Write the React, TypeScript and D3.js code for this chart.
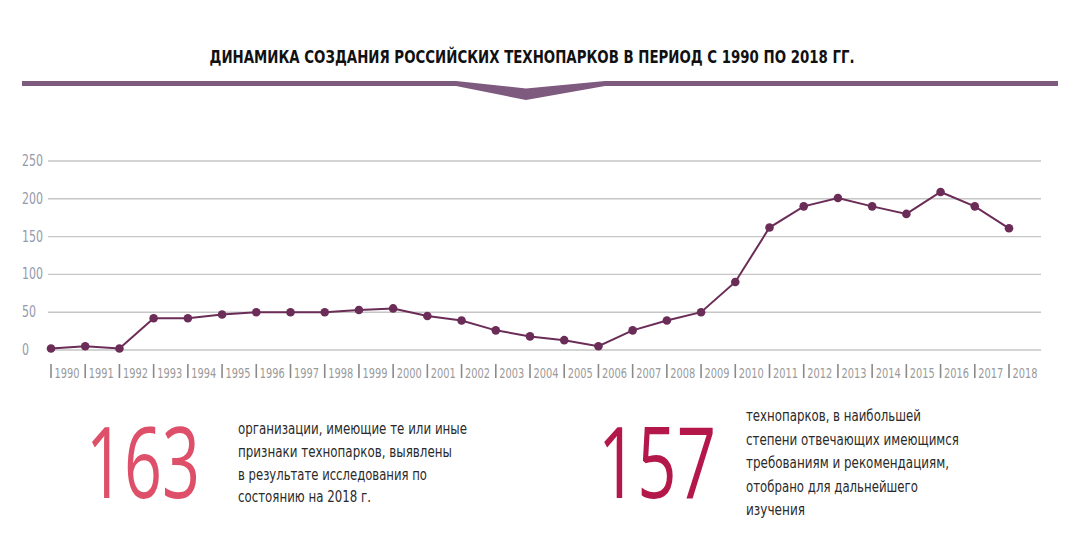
import React from "react";
import * as d3 from "d3";

const years: number[] = d3.range(1990, 2019);
const values: number[] = [2, 5, 2, 42, 42, 47, 50, 50, 50, 53, 55, 45, 39, 26, 18, 13, 5, 26, 39, 50, 90, 162, 190, 201, 190, 180, 209, 190, 161];
const yTicks: number[] = [0, 50, 100, 150, 200, 250];
const title = "ДИНАМИКА СОЗДАНИЯ РОССИЙСКИХ ТЕХНОПАРКОВ В ПЕРИОД С 1990 ПО 2018 ГГ.";
const bigLeft = "163";
const bigRight = "157";
const textLeft: string[] = [
  "организации, имеющие те или иные",
  "признаки технопарков, выявлены",
  "в результате исследования по",
  "состоянию на 2018 г.",
];
const textLeftWidths: number[] = [229, 214, 189, 133];
const textRight: string[] = [
  "технопарков, в наибольшей",
  "степени отвечающих имеющимся",
  "требованиям и рекомендациям,",
  "отобрано для дальнейшего",
  "изучения",
];
const textRightWidths: number[] = [175, 213, 203, 172, 59];

const W = 1090;
const H = 538;
const NARROW = "'DejaVu Sans Condensed', 'Liberation Sans Narrow', sans-serif";

export default function App() {
  const x = d3.scalePoint<number>().domain(years).range([51, 1009]);
  const y = d3.scaleLinear().domain([0, 250]).range([350, 161]);
  const line = d3
    .line<number>()
    .x((_, i) => x(years[i]) as number)
    .y((d) => y(d));

  return (
    <svg
      width={W}
      height={H}
      style={{ position: "absolute", left: 0, top: 0, background: "#fff" }}
    >
      <rect width={W} height={H} fill="#fff" />
      {/* Title */}
      <text
        x={532}
        y={63}
        textAnchor="middle"
        fontFamily={NARROW}
        fontWeight="bold"
        fontSize={17}
        fill="#111"
        textLength={645}
        lengthAdjust="spacingAndGlyphs"
      >
        {title}
      </text>
      {/* Band with chevron */}
      <rect x={22} y={81} width={434} height={5} fill="#7f5a7f" />
      <rect x={605} y={81} width={453} height={5} fill="#7f5a7f" />
      <polygon
        points="456,81 526,88.5 605,81 605,86 526,100 456,86"
        fill="#7f5a7f"
      />
      {/* Grid */}
      {yTicks.map((t) => (
        <g key={t}>
          <line x1={48} x2={1041} y1={y(t)} y2={y(t)} stroke="#c6c6c6" strokeWidth={1.4} />
          <text
            x={22}
            y={y(t) + 5}
            fontFamily={NARROW}
            fontSize={15}
            fill="#959aab"
            textLength={String(t).length * 7}
            lengthAdjust="spacingAndGlyphs"
          >
            {t}
          </text>
        </g>
      ))}
      {/* X axis ticks */}
      {years.map((yr) => (
        <g key={yr}>
          <line
            x1={x(yr)}
            x2={x(yr)}
            y1={364}
            y2={378}
            stroke="#8a8a8a"
            strokeWidth={1.6}
          />
          <text
            x={(x(yr) as number) + 3.5}
            y={377.5}
            fontFamily={NARROW}
            fontSize={14}
            fill="#9a9a9a"
            textLength={25}
            lengthAdjust="spacingAndGlyphs"
          >
            {yr}
          </text>
        </g>
      ))}
      {/* Line */}
      <path d={line(values) || ""} fill="none" stroke="#6b2d57" strokeWidth={2} />
      {values.map((v, i) => (
        <circle key={i} cx={x(years[i])} cy={y(v)} r={4.3} fill="#6b2d57" />
      ))}
      {/* Big numbers */}
      <text
        x={86}
        y={498}
        fontFamily="'Open Sans', 'Lato', sans-serif"
        fontWeight={400}
        fontSize={98}
        fill="#de5069"
        textLength={114}
        lengthAdjust="spacingAndGlyphs"
      >
        {bigLeft}
      </text>
      <text
        x={598}
        y={498}
        fontFamily="'Open Sans', 'Lato', sans-serif"
        fontWeight={400}
        fontSize={98}
        fill="#b4184b"
        textLength={118}
        lengthAdjust="spacingAndGlyphs"
      >
        {bigRight}
      </text>
      {/* Paragraphs */}
      {textLeft.map((s, i) => (
        <text
          key={i}
          x={238}
          y={434 + i * 22.8}
          fontFamily={NARROW}
          fontSize={15}
          fill="#2a2a2a"
          textLength={textLeftWidths[i]}
          lengthAdjust="spacingAndGlyphs"
        >
          {s}
        </text>
      ))}
      {textRight.map((s, i) => (
        <text
          key={i}
          x={746}
          y={421 + i * 23.5}
          fontFamily={NARROW}
          fontSize={15}
          fill="#2a2a2a"
          textLength={textRightWidths[i]}
          lengthAdjust="spacingAndGlyphs"
        >
          {s}
        </text>
      ))}
    </svg>
  );
}
